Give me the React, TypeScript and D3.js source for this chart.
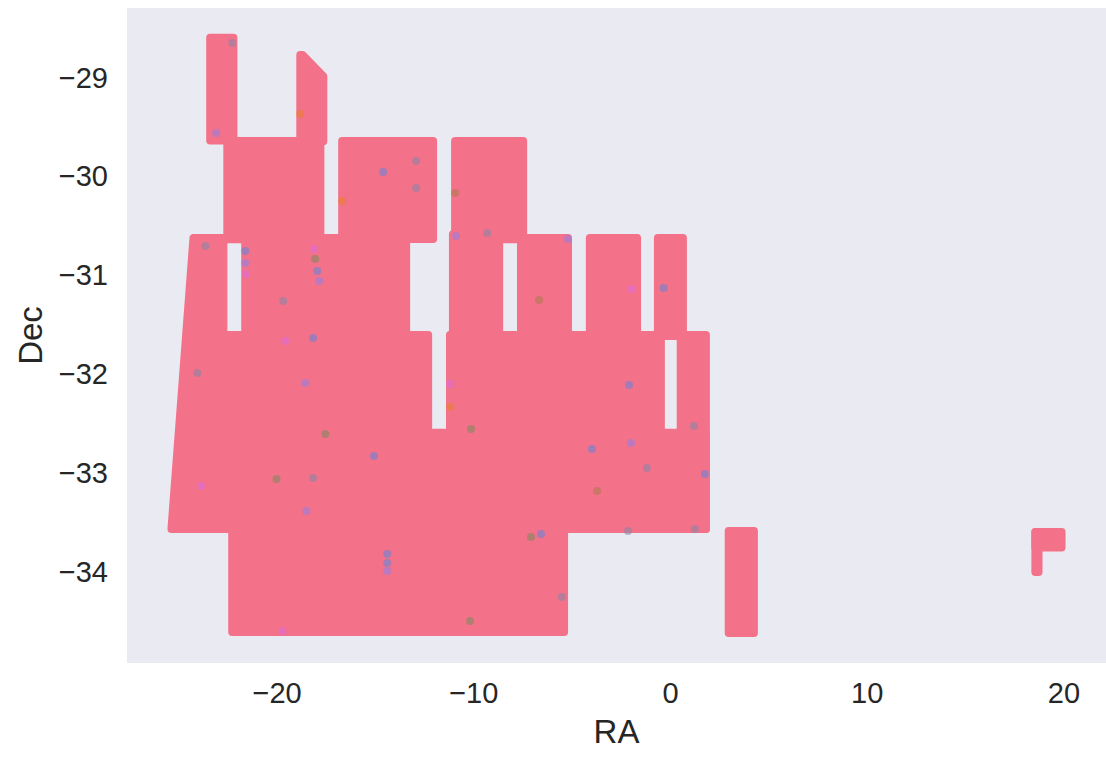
import { format, line, scaleLinear } from "d3";

const raTicks = [-20, -10, 0, 10, 20];
const decTicks = [-29, -30, -31, -32, -33, -34];

// survey footprint, bounds of the point centres: [raMin, raMax, decTop, decBottom]
const tiles: [number, number, number, number][] = [
  [-23.4, -22.22, -28.6, -29.64],
  [-22.53, -17.8, -29.646, -30.64],
  [-16.69, -12.07, -29.646, -30.638],
  [-10.95, -7.49, -29.646, -30.64],
  [-21.62, -13.44, -30.627, -31.6],
  [-11.06, -8.71, -30.59, -31.6],
  [-7.6, -5.21, -30.627, -31.6],
  [-4.1, -1.7, -30.627, -31.6],
  [-0.64, 0.63, -30.627, -31.62],
  [-22.6, -12.32, -31.609, -32.6],
  [-11.21, -0.49, -31.609, -32.6],
  [0.52, 1.8, -31.609, -33.574],
  [-22.6, 1.8, -32.6, -33.574],
  [-22.28, -5.41, -33.55, -34.616],
  [2.96, 4.24, -33.593, -34.626],
  [18.55, 19.88, -33.605, -33.76],
  [18.55, 18.71, -33.605, -34.01]
];

// tiles with a slanted edge, corners as [ra, dec]
const slantedTiles: [number, number][][] = [
  [[-18.82, -28.775], [-18.7, -28.775], [-17.65, -28.99], [-17.65, -29.65], [-18.82, -29.65]],
  [[-24.25, -30.627], [-22.73, -30.627], [-22.73, -33.574], [-25.37, -33.574]]
];

// the few points of other classes that show through
const otherRa = [
  -18.82, -16.69, -22.28, -23.09, -14.61, -12.93, -12.93, -21.62, -21.62, -21.57,
  -18.11, -18.06, -17.96, -17.86, -18.17, -23.64, -24.05, -11.2, -10.95, -10.9,
  -9.32, -5.21, -1.96, -0.34, -6.68, -2.11, 1.19, 1.75, -3.99, -11.2,
  -10.14, -15.07, -14.4, -14.4, -14.4, -6.58, -7.09, -5.52, -23.85, -18.51,
  -20.03, -18.17, -2.01, -2.16, -10.19, -19.73, -17.55, -18.57, -1.2, 1.24,
  -3.73, -19.69, -19.58
];
const otherDec = [
  -29.373, -30.253, -28.654, -29.565, -29.96, -29.848, -30.122, -30.759, -30.88, -30.992,
  -30.739, -30.84, -30.962, -31.063, -31.64, -30.709, -31.994, -32.338, -30.172, -30.608,
  -30.577, -30.638, -31.144, -31.134, -31.255, -32.116, -32.531, -33.017, -32.763, -32.106,
  -32.561, -32.834, -33.826, -33.917, -33.998, -33.624, -33.654, -34.261, -33.138, -33.391,
  -33.067, -33.057, -32.703, -33.593, -34.504, -34.605, -32.612, -32.095, -32.956, -33.573,
  -33.19, -31.265, -31.67
];
const otherClass = [
  "orange", "orange", "grey", "purple", "blue", "grey", "grey", "blue", "purple", "magenta",
  "magenta", "olive", "blue", "purple", "blue", "grey", "grey", "orange", "brown", "purple",
  "grey", "purple", "magenta", "blue", "brown", "blue", "grey", "blue", "blue", "magenta",
  "olive", "blue", "blue", "blue", "purple", "blue", "olive", "grey", "magenta", "purple",
  "olive", "grey", "purple", "grey", "olive", "magenta", "olive", "purple", "grey", "grey",
  "brown", "grey", "magenta"
];

const classColors: Record<string, string> = {
  orange: "#e8822f",
  purple: "#9a7fe0",
  blue: "#6b83d6",
  magenta: "#e06ad8",
  olive: "#86895f",
  grey: "#8e86a6",
  brown: "#b07a50"
};

const pink = "#f37189";
const formatTick = format("d");

export default function App() {
  const width = 1106;
  const height = 761;
  const plot = { left: 127, right: 1106, top: 8, bottom: 663 };
  const x = scaleLinear().domain([-27.63, 22.14]).range([plot.left, plot.right]);
  const y = scaleLinear().domain([-28.3, -34.93]).range([plot.top, plot.bottom]);
  const markerRadius = 4;
  const polygonPath = line<[number, number]>()
    .x((d) => x(d[0]))
    .y((d) => y(d[1]));
  const font = "'Liberation Sans', Arial, sans-serif";

  return (
    <svg
      width={width}
      height={height}
      viewBox={`0 0 ${width} ${height}`}
      style={{ position: "absolute", left: 0, top: 0, background: "#fff" }}
    >
      <defs>
        <clipPath id="plot-area">
          <rect x={plot.left} y={plot.top} width={plot.right - plot.left} height={plot.bottom - plot.top} />
        </clipPath>
      </defs>
      <rect x={plot.left} y={plot.top} width={plot.right - plot.left} height={plot.bottom - plot.top} fill="#eaeaf2" />

      <g clipPath="url(#plot-area)">
        {tiles.map(([ra0, ra1, decTop, decBottom], i) => (
          <rect
            key={`tile-${i}`}
            x={x(ra0)}
            y={y(decTop)}
            width={x(ra1) - x(ra0)}
            height={y(decBottom) - y(decTop)}
            fill={pink}
            stroke={pink}
            strokeWidth={markerRadius * 2}
            strokeLinejoin="round"
          />
        ))}
        {slantedTiles.map((corners, i) => (
          <path
            key={`slant-${i}`}
            d={`${polygonPath(corners)}Z`}
            fill={pink}
            stroke={pink}
            strokeWidth={markerRadius * 2}
            strokeLinejoin="round"
          />
        ))}
        {otherRa.map((ra, i) => (
          <circle
            key={`other-${i}`}
            cx={x(ra)}
            cy={y(otherDec[i])}
            r={markerRadius}
            fill={classColors[otherClass[i]]}
            opacity={0.6}
          />
        ))}
      </g>

      <g fill="#262626" fontFamily={font}>
        {raTicks.map((tick) => (
          <text key={tick} x={x(tick)} y={703} textAnchor="middle" fontSize={29}>
            {formatTick(tick)}
          </text>
        ))}
        {decTicks.map((tick) => (
          <text key={tick} x={108} y={y(tick) + 10.5} textAnchor="end" fontSize={29}>
            {formatTick(tick)}
          </text>
        ))}
        <text x={(plot.left + plot.right) / 2} y={743} textAnchor="middle" fontSize={33}>
          RA
        </text>
        <text
          transform={`translate(42, ${(plot.top + plot.bottom) / 2}) rotate(-90)`}
          textAnchor="middle"
          fontSize={33}
        >
          Dec
        </text>
      </g>
    </svg>
  );
}
